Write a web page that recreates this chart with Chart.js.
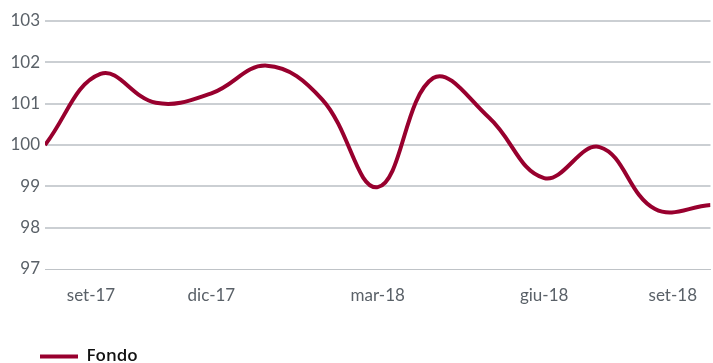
<!DOCTYPE html>
<html>
<head>
<meta charset="utf-8">
<script src="https://cdn.jsdelivr.net/npm/chart.js@4"></script>
<style>
  html, body { margin: 0; padding: 0; background: #ffffff; }
  #wrap { width: 713px; height: 363px; position: relative; }
</style>
</head>
<body>
<div id="wrap"><canvas id="c" width="713" height="363"></canvas></div>
<script>
// Months (one point per month)
const months = ['set-17','ott-17','nov-17','dic-17','gen-18','feb-18','mar-18','apr-18','mag-18','giu-18','lug-18','ago-18','set-18'];
// Series "Fondo"
const fondo = [100.0, 101.72, 101.02, 101.25, 101.92, 101.1, 98.98, 101.62, 100.67, 99.2, 99.95, 98.45, 98.55];
// X tick labels shown
const xTickLabels = ['set-17','dic-17','mar-18','giu-18','set-18'];
// Y ticks
const yTicks = [97, 98, 99, 100, 101, 102, 103];

// display positions of the x tick labels (edge labels pulled inward as in the reference)
const xTickPos = [0.83, 3, 6, 9, 11.32];

const legendNudge = {
  id: 'legendNudge',
  afterLayout(chart) {
    const lg = chart.legend;
    if (!lg) return;
    lg.left += 30; lg.right += 30;
    lg.top += 12; lg.bottom += 12;
  }
};

const lineColor = '#98002e';

new Chart(document.getElementById('c'), {
  type: 'line',
  data: {
    datasets: [{
      label: 'Fondo',
      data: fondo.map((v, i) => ({ x: i, y: v })),
      borderColor: lineColor,
      backgroundColor: lineColor,
      borderWidth: 4,
      pointRadius: 0,
      tension: 0.4,
      fill: false
    }]
  },
  options: {
    responsive: false,
    animation: false,
    devicePixelRatio: 1,
    layout: { padding: { top: 21, left: 0, right: 0, bottom: 0 } },
    plugins: {
      tooltip: { enabled: false },
      legend: {
        display: true,
        position: 'bottom',
        align: 'start',
        labels: {
          boxWidth: 38,
          boxHeight: 4,
          color: '#111111',
          font: { family: 'Open Sans', size: 17, weight: '600' },
          generateLabels(chart) {
            return chart.data.datasets.map((ds, i) => ({
              text: ds.label,
              fillStyle: ds.borderColor,
              strokeStyle: ds.borderColor,
              lineWidth: 0,
              fontColor: '#111111',
              datasetIndex: i
            }));
          }
        }
      }
    },
    scales: {
      x: {
        type: 'linear',
        min: 0,
        max: fondo.length - 1,
        afterBuildTicks(axis) { axis.ticks = xTickPos.map(v => ({ value: v })); },
        afterFit(axis) { axis.height = 57; },
        grid: { display: false, drawTicks: false },
        border: { display: true, color: '#bfc3c7', width: 1, dash: [1, 1] },
        ticks: {
          autoSkip: false,
          maxRotation: 0,
          padding: 16,
          color: '#5a6168',
          font: { family: 'Lato', size: 17 },
          callback: (v, i) => xTickLabels[i]
        }
      },
      y: {
        min: 97,
        max: 103,
        afterBuildTicks(axis) { axis.ticks = yTicks.map(v => ({ value: v })); },
        afterFit(axis) { axis.width = 45; },
        border: { display: false },
        grid: {
          drawTicks: false,
          lineWidth: 2,
          color: (ctx) => (ctx.tick && ctx.tick.value === 97) ? 'rgba(0,0,0,0)' : '#cbcfd3'
        },
        ticks: {
          padding: 5,
          color: '#5a6168',
          font: { family: 'Lato', size: 17 },
          callback: (v) => String(v)
        }
      }
    }
  },
  plugins: [legendNudge]
});
</script>
</body>
</html>
